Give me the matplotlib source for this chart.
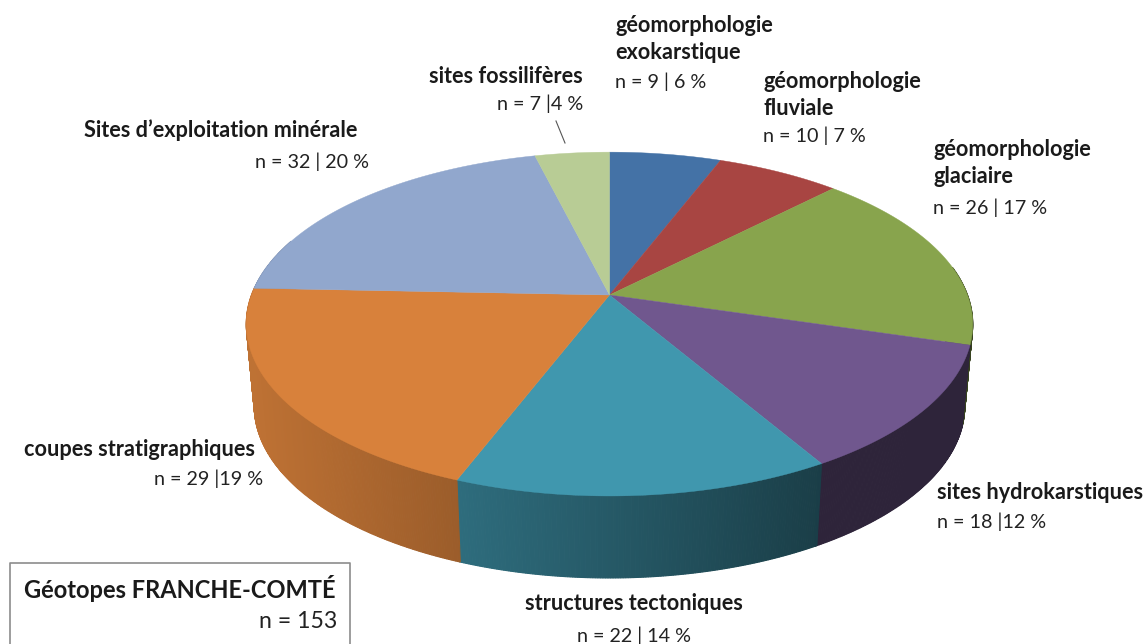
import numpy as np
import matplotlib
matplotlib.use("Agg")
import matplotlib.pyplot as plt

plt.rcParams['font.family'] = ['Lato', 'DejaVu Sans']

# Data, clockwise from 12 o'clock
names = ["géomorphologie\nexokarstique", "géomorphologie\nfluviale", "géomorphologie\nglaciaire",
         "sites hydrokarstiques", "structures tectoniques", "coupes stratigraphiques",
         "Sites d’exploitation minérale", "sites fossilifères"]
counts = ["n = 9 | 6 %", "n = 10 | 7 %", "n = 26 | 17 %", "n = 18 |12 %",
          "n = 22 | 14 %", "n = 29 |19 %", "n = 32 | 20 %", "n = 7 |4 %"]
# slice sizes as measured on the drawn pie
sizes = [9, 10, 26.6, 18.4, 22, 30.5, 31.5, 6]
colors = ["#4472A6", "#A84542", "#88A44D", "#70578E", "#4097AE", "#D8813B", "#91A7CD", "#B8CC95"]

# Perspective disc parameters (pixels)
cx, cy = 609.5, 295
rx, ry, k = 358, 167, 0.169
depth = 82
shrink = 0.978


def project(theta):
    u, v = np.sin(theta), np.cos(theta)
    d = 1 + k * v
    return cx + rx * u / d, cy - ry * v / d


def shade(x):
    return np.interp(x, [250, 456, 823], [0.88, 0.72, 0.41])


fig = plt.figure(figsize=(11.45, 6.44), dpi=100)
ax = fig.add_axes([0, 0, 1, 1])
ax.set_xlim(0, 1145)
ax.set_ylim(644, 0)
ax.axis("off")

edges = np.cumsum([0] + sizes) / sum(sizes) * 2 * np.pi

# Side wall, drawn as thin strips so the shading can run along it
for i, col in enumerate(colors):
    t = np.arange(edges[i], edges[i + 1] + 0.006, 0.006)
    t = t[(t > np.radians(80)) & (t < np.radians(290))]
    rgb = np.array(matplotlib.colors.to_rgb(col))
    for a, b in zip(t[:-1], t[1:]):
        xa, ya = project(a)
        xb, yb = project(b)
        xs = [xa, xb, cx + (xb - cx) * shrink, cx + (xa - cx) * shrink]
        ys = [ya, yb, yb + depth, ya + depth]
        c = rgb * shade((xa + xb) / 2)
        ax.fill(xs, ys, color=c, lw=0.8, zorder=1)

# Top of the pie
for i, col in enumerate(colors):
    t = np.linspace(edges[i], edges[i + 1], 120)
    x, y = project(t)
    ax.fill(np.r_[cx, x], np.r_[cy, y], color=col, lw=0.3, zorder=2)

# Labels
bold = dict(fontsize=15.6, fontweight="bold", color="#1a1a1a", va="center", linespacing=1.3)
norm = dict(fontsize=14.2, color="#222222", va="center")

ax.text(615, 39, names[0], ha="left", **bold)
ax.text(615, 82, counts[0], ha="left", **norm)
ax.text(763, 95, names[1], ha="left", **bold)
ax.text(763, 136, counts[1], ha="left", **norm)
ax.text(933, 163, names[2], ha="left", **bold)
ax.text(933, 208, counts[2], ha="left", **norm)
ax.text(937, 492, names[3], ha="left", **bold)
ax.text(937, 522, counts[3], ha="left", **norm)
ax.text(525, 603, names[4], ha="left", **bold)
ax.text(577, 636, counts[4], ha="left", **norm)
ax.text(24, 449, names[5], ha="left", **bold)
ax.text(263, 479, counts[5], ha="right", **norm)
ax.text(84, 130, names[6], ha="left", **bold)
ax.text(369, 162, counts[6], ha="right", **norm)
ax.text(429, 76, names[7], ha="left", **bold)
ax.text(583, 104, counts[7], ha="right", **norm)
ax.plot([556, 565], [121, 143], color="#555555", lw=0.8)

# Title box, runs off the bottom of the picture
ax.plot([10, 10, 350, 350], [650, 563, 563, 650], color="#8c8c8c", lw=1.2)
ax.text(24, 589, "Géotopes FRANCHE-COMTÉ", ha="left", va="center",
        fontsize=17, fontweight="bold", color="#1a1a1a")
ax.text(337, 621, "n = 153", ha="right", va="center", fontsize=16.7, color="#222222")

fig.savefig("out.png", dpi=100)
